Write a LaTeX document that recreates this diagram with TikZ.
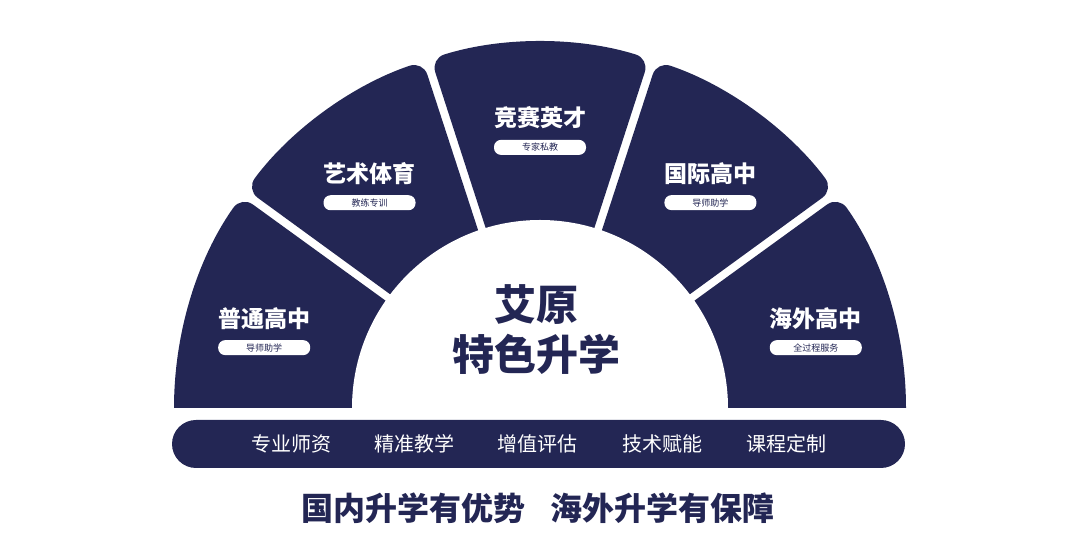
\documentclass[tikz,border=0pt]{standalone}
\usepackage{fontspec}
\usetikzlibrary{calc,positioning}
\newfontfamily\cjk{Noto Sans CJK SC}
\definecolor{navy}{HTML}{232654}
\tikzset{
  seg/.style={fill=navy},
  segtitle/.style={text=white, font=\cjk\bfseries\fontsize{23}{23}\selectfont},
  pill/.style={fill=white, rounded corners=7pt, minimum width=92pt, minimum height=15pt, inner sep=0pt, text=navy, font=\cjk\fontsize{9}{9}\selectfont},
  bartext/.style={text=white, font=\cjk\fontsize{20}{20}\selectfont},
}
\begin{document}
\begin{tikzpicture}[x=1pt,y=1pt]
  \useasboundingbox (0,0) rectangle (1080,556);
  \coordinate (c) at (540,148);
  % fan segments
  \foreach \a/\t/\s [count=\i] in {0/海外高中/全过程服务, 36/国际高中/导师助学, 72/竞赛英才/专家私教, 108/艺术体育/教练专训, 144/普通高中/导师助学}{
    \pgfmathsetmacro\ia{\a+ifthenelse(\i==1,0,1.2)}
    \pgfmathsetmacro\ib{\a+36-ifthenelse(\i==5,0,1.2)}
    \pgfmathsetmacro\oa{\a+ifthenelse(\i==1,0,0.65)}
    \pgfmathsetmacro\ob{\a+36-ifthenelse(\i==5,0,0.65)}
    \pgfmathsetmacro\ra{ifthenelse(\i==1,0.01,14)}
    \pgfmathsetmacro\rb{ifthenelse(\i==5,0.01,14)}
    \fill[seg] ($(c)+(\ia:188)$) [rounded corners=\ra pt] -- ($(c)+(\oa:366)$) [rounded corners=\rb pt] arc[start angle=\oa, end angle=\ob, radius=366] [sharp corners] -- ($(c)+(\ib:188)$) -- cycle;
    \pgfmathsetmacro\m{\a+18}
    \node[segtitle] (t\i) at ($(c)+(\m:290)$) {\t};
    \node[pill, below=7pt of t\i] (p\i) {\s};
  }
  % white centre
  \fill[white] ($(c)+(0:188)$) arc[start angle=0, end angle=180, radius=188] -- cycle;
  \node[text=navy, font=\cjk\bfseries\fontsize{42}{50}\selectfont, align=center] (core) at (536,226) {艾原\\特色升学};
  % bar
  \fill[navy, rounded corners=24pt] (172,88) rectangle (905,136);
  \foreach \x/\w [count=\j] in {291/专业师资, 414/精准教学, 537/增值评估, 662/技术赋能, 786/课程定制}
    \node[bartext] (b\j) at (\x,112) {\w};
  \node[text=navy, font=\cjk\bfseries\fontsize{32}{32}\selectfont] (slogan) at (538,48) {国内升学有优势\hspace{26pt}海外升学有保障};
\end{tikzpicture}
\end{document}
